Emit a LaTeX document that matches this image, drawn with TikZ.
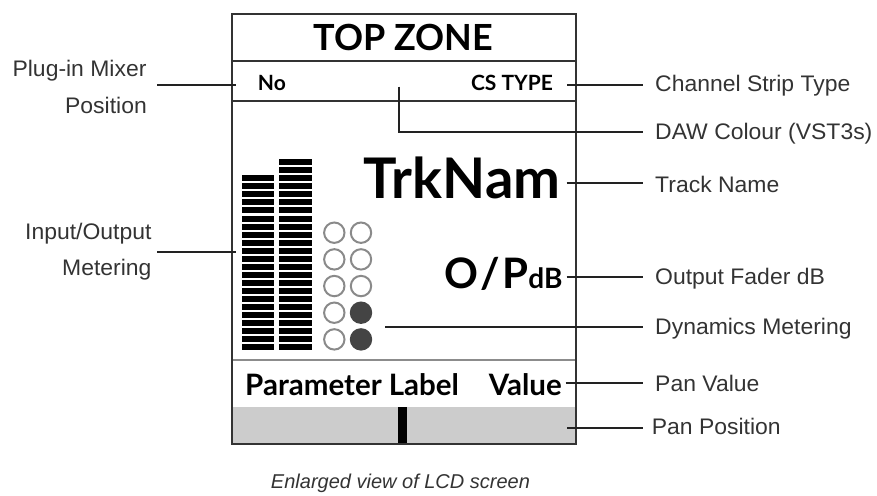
\documentclass[tikz,border=0pt]{standalone}
\usepackage{fontspec}
\setmainfont{Liberation Sans}
\newfontfamily\lblfont[FakeStretch=1.02]{Liberation Sans}
\newfontfamily\lato{Lato}
\definecolor{bord}{HTML}{333333}
\definecolor{sepgray}{HTML}{8C8C8C}
\definecolor{panfill}{HTML}{CCCCCC}
\definecolor{ringgray}{HTML}{8A8A8A}
\definecolor{dotfill}{HTML}{444444}
\definecolor{labtext}{HTML}{333333}
\definecolor{connc}{HTML}{222222}
\tikzset{
  conn/.style={draw=connc, line width=2pt},
  lbl/.style={inner sep=0pt, text=labtext, font=\lblfont\fontsize{22.5}{27}\selectfont},
  lblL/.style={inner sep=0pt, text=labtext, font=\lblfont\fontsize{22.5}{27}\selectfont, anchor=base east},
  lcd/.style={inner sep=0pt, text=black},
  seg/.style={fill=black, draw=none},
  ring/.style={draw=ringgray, line width=2pt, fill=white},
  fdot/.style={draw=dotfill, line width=2pt, fill=dotfill},
}
\begin{document}
\begin{tikzpicture}[x=1pt, y=-1pt]
\useasboundingbox (0,0) rectangle (877,495);
% pan bar
\fill[panfill] (231.7,407) rectangle (575.7,444);
\fill[black] (397.7,407) rectangle (406.7,444);
% separators
\draw[bord, line width=2pt] (231.7,61) -- (575.7,61);
\draw[bord, line width=2pt] (231.7,100.5) -- (575.7,100.5);
\draw[sepgray, line width=2pt] (231.7,359.5) -- (575.7,359.5);
% outer box
\draw[bord, line width=2pt] (231.7,14) rectangle (575.7,444);
% meters
\foreach \i in {0,...,21} {
  \fill[seg] (241.7,{350-6-\i*8.03}) rectangle (274.3,{350-\i*8.03});
}
\foreach \i in {0,...,23} {
  \fill[seg] (279,{350-6-\i*8.03}) rectangle (312.3,{350-\i*8.03});
}
% dynamics circles
\foreach \r in {0,...,4} {
  \draw[ring] (334.3,{232.7+\r*26.67}) circle (10.2);
}
\foreach \r in {0,1,2} {
  \draw[ring] (361,{232.7+\r*26.67}) circle (10.2);
}
\foreach \r in {3,4} {
  \draw[fdot] (361,{232.7+\r*26.67}) circle (10.2);
}
% LCD texts
\node[lcd, anchor=base, font=\lato\bfseries\fontsize{36}{36}\selectfont] (top) at (403.5,51) {TOP ZONE};
\node[lcd, anchor=base west, font=\lato\bfseries\fontsize{21}{21}\selectfont] (no) at (257.7,90) {No};
\node[lcd, anchor=base east, font=\lato\bfseries\fontsize{21}{21}\selectfont] (cs) at (553,90) {CS TYPE};
\node[lcd, anchor=base east, font=\lato\bfseries\fontsize{56}{56}\selectfont] (trk) at (560.5,198) {TrkNam};
\node[lcd, anchor=base east, font=\lato\bfseries\fontsize{42}{42}\selectfont] (op) at (562.7,288.3) {O\kern2pt/\kern2pt P{\fontsize{28}{28}\selectfont dB}};
\node[lcd, anchor=base west, font=\lato\bfseries\fontsize{29.5}{30}\selectfont] (plab) at (245,395) {Parameter Label};
\node[lcd, anchor=base east, font=\lato\bfseries\fontsize{29.5}{30}\selectfont] (pval) at (562,395) {Value};
% left labels
\node[lblL] (lplug1) at (146.7,76.7) {Plug-in Mixer};
\node[lblL] (lplug2) at (147,113.3) {Position};
\node[lblL] (lio1) at (151.7,239) {Input/Output};
\node[lblL] (lio2) at (151.7,275) {Metering};
% right labels
\node[lbl, anchor=base west] (lcs) at (655,91.7) {Channel Strip Type};
\node[lbl, anchor=base west] (ldaw) at (655,139.3) {DAW Colour (VST3s)};
\node[lbl, anchor=base west] (ltrk) at (655,192.3) {Track Name};
\node[lbl, anchor=base west] (lop) at (655,284.5) {Output Fader dB};
\node[lbl, anchor=base west] (ldyn) at (655,334.5) {Dynamics Metering};
\node[lbl, anchor=base west] (lpv) at (655,391) {Pan Value};
\node[lbl, anchor=base west] (lpp) at (651.7,434.5) {Pan Position};
% caption
\node[inner sep=0pt, anchor=base, text=labtext, font=\itshape\fontsize{20}{24}\selectfont] (cap) at (400.5,488) {Enlarged view of LCD screen};
% connector coordinates
\coordinate (aPs) at (157,85); \coordinate (aPe) at (236,85);
\coordinate (aIs) at (157,252.3); \coordinate (aIe) at (236,252.3);
\coordinate (aCs) at (567,85); \coordinate (aCe) at (643,85);
\coordinate (aDs) at (399.3,86.7); \coordinate (aDk) at (399.3,132); \coordinate (aDe) at (643,132);
\coordinate (aTs) at (566.7,183.3); \coordinate (aTe) at (643,183.3);
\coordinate (aOs) at (566.7,276.7); \coordinate (aOe) at (643,276.7);
\coordinate (aYs) at (385,327.2); \coordinate (aYe) at (643,327.2);
\coordinate (aVs) at (565.7,383); \coordinate (aVe) at (643,383);
\coordinate (aQs) at (567,428); \coordinate (aQe) at (643,428);
% connectors
\draw[conn] (aPs) -- (aPe);
\draw[conn] (aIs) -- (aIe);
\draw[conn] (aCs) -- (aCe);
\draw[conn] (aDs) -- (aDk) -- (aDe);
\draw[conn] (aTs) -- (aTe);
\draw[conn] (aOs) -- (aOe);
\draw[conn] (aYs) -- (aYe);
\draw[conn] (aVs) -- (aVe);
\draw[conn] (aQs) -- (aQe);
\end{tikzpicture}
\end{document}
